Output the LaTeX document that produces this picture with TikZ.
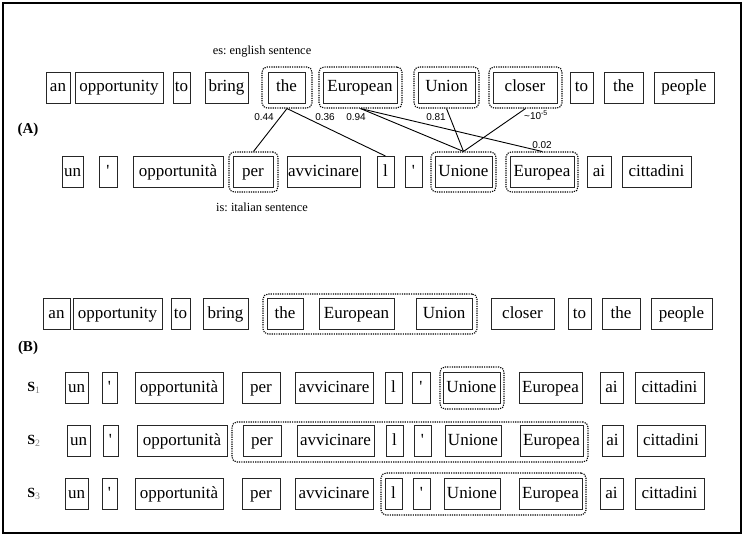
\documentclass[tikz,border=0pt]{standalone}
\usepackage{fontspec}
\setmainfont{Liberation Serif}
\newfontfamily\numfont{Liberation Sans}
\newfontfamily\wordfont{Liberation Serif}
\frenchspacing
\newcommand\wb[5]{\node[wbox, minimum width={#3-#2}] (#1) at ({(#2+#3)/2},#4) {#5};}
\newcommand\db[5]{\node[dbox, minimum width={#3-#2}, minimum height={#5-#4}] (#1) at ({(#2+#3)/2},{(#4+#5)/2}) {};}
\newcommand\ap{\textquotesingle}
\begin{document}
\begin{tikzpicture}[x=1pt,y=-1pt,
  wbox/.style={draw=black!85, line width=0.9pt, inner sep=0pt, minimum height=31pt,
    text height=11.5pt, text depth=3.5pt, font=\wordfont\fontsize{17}{20}\selectfont},
  dbox/.style={draw, line width=1.1pt, dash pattern=on 1.2pt off 1.1pt, rounded corners=5pt, inner sep=0pt},
  lab/.style={font=\numfont\fontsize{10}{12}\selectfont, inner sep=0pt},
  note/.style={font=\wordfont\fontsize{12.4}{14}\selectfont\frenchspacing, inner sep=0pt},
  part/.style={font=\wordfont\bfseries\fontsize{15}{18}\selectfont, inner sep=0pt},
  slab/.style={font=\wordfont\bfseries\fontsize{14}{16}\selectfont, inner sep=0pt},
  link/.style={line width=0.9pt}]
\useasboundingbox (0,0) rectangle (747,535);
\draw[line width=2pt] (3,3) rectangle (741,533);

% ---------- (A) ----------
\node[note] (es) at (262,52) {es: english sentence};
\node[part] (A) at (28,130) {(A)};
\wb{aan}{46}{70}{88}{an}
\wb{aopp}{75}{163}{88}{opportunity}
\wb{ato}{173}{190}{88}{to}
\wb{abring}{205}{248}{88}{bring}
\wb{athe}{268}{305}{88}{the}
\wb{aeur}{323}{397}{88}{European}
\wb{aunion}{418}{475}{88}{Union}
\wb{acloser}{493}{557}{88}{closer}
\wb{ato2}{570}{593}{88}{to}
\wb{athe2}{604}{643}{88}{the}
\wb{apeople}{654}{714}{88}{people}
\db{dthe}{262}{312}{67}{108}
\db{deur}{319}{402}{67}{108}
\db{dunion}{414}{479}{67}{108}
\db{dcloser}{489}{562}{67}{108}

\wb{iun}{62}{83}{172}{un}
\wb{iap}{99}{117}{172}{\ap}
\wb{iopp}{133}{223}{172}{opportunità}
\wb{iper}{233}{273}{172}{per}
\wb{iavv}{287}{360}{172}{avvicinare}
\wb{il}{377}{394}{172}{l}
\wb{iap2}{405}{422}{172}{\ap}
\wb{iunione}{435}{492}{172}{Unione}
\wb{ieuropea}{510}{574}{172}{Europea}
\wb{iai}{587}{611}{172}{ai}
\wb{icitt}{622}{691}{172}{cittadini}
\db{dper}{229}{278}{152}{192}
\db{dunione}{431}{496}{152}{192}
\db{deuropea}{506}{578}{152}{192}
\node[note] (is) at (262,207) {is: italian sentence};

\draw[link] (dthe.south) -- (dper.north);
\draw[link] (dthe.south) -- (il.north);
\draw[link] (deur.south) -- (dunione.north);
\draw[link] (deur.south) -- (deuropea.north);
\draw[link] (dunion.south) -- (dunione.north);
\draw[link] (dcloser.south) -- (dunione.north);
\node[lab] (l1) at (264,117) {0.44};
\node[lab] (l2) at (325,117) {0.36};
\node[lab] (l3) at (356,117) {0.94};
\node[lab] (l4) at (436,117) {0.81};
\node[lab] (l5) at (536,115) {\textasciitilde10\textsuperscript{-5}};
\node[lab] (l6) at (542,145) {0.02};

% ---------- (B) ----------
\wb{ban}{43}{70}{314}{an}
\wb{bopp}{73}{162}{314}{opportunity}
\wb{bto}{171}{190}{314}{to}
\wb{bbring}{203}{248}{314}{bring}
\wb{bthe}{267}{303}{314}{the}
\wb{beur}{319}{394}{314}{European}
\wb{bunion}{416}{472}{314}{Union}
\wb{bcloser}{491}{554}{314}{closer}
\wb{bto2}{568}{591}{314}{to}
\wb{bthe2}{602}{640}{314}{the}
\wb{bpeople}{651}{712}{314}{people}
\db{dbgroup}{263}{477}{294}{334}
\node[part] (B) at (28,348) {(B)};

% S1
\node[slab] (s1) at (34,388) {S\textsubscript{\textcolor{gray}{\mdseries 1}}};
\wb{pun}{65}{88}{388}{un}
\wb{pap}{102}{117}{388}{\ap}
\wb{popp}{135}{223}{388}{opportunità}
\wb{pper}{242}{280}{388}{per}
\wb{pavv}{295}{373}{388}{avvicinare}
\wb{pl}{385}{402}{388}{l}
\wb{pap2}{412}{430}{388}{\ap}
\wb{punione}{443}{500}{388}{Unione}
\wb{peuropea}{519}{582}{388}{Europea}
\wb{pai}{600}{623}{388}{ai}
\wb{pcitt}{635}{704}{388}{cittadini}
\db{dp}{440}{504}{367}{409}

% S2
\node[slab] (s2) at (34,441) {S\textsubscript{\textcolor{gray}{\mdseries 2}}};
\wb{qun}{67}{90}{441}{un}
\wb{qap}{103}{118}{441}{\ap}
\wb{qopp}{137}{227}{441}{opportunità}
\wb{qper}{243}{281}{441}{per}
\wb{qavv}{297}{374}{441}{avvicinare}
\wb{ql}{386}{403}{441}{l}
\wb{qap2}{414}{431}{441}{\ap}
\wb{qunione}{445}{501}{441}{Unione}
\wb{qeuropea}{520}{583}{441}{Europea}
\wb{qai}{602}{623}{441}{ai}
\wb{qcitt}{637}{705}{441}{cittadini}
\db{dq}{232}{588}{422}{462}

% S3
\node[slab] (s3) at (34,494) {S\textsubscript{\textcolor{gray}{\mdseries 3}}};
\wb{run}{65}{88}{494}{un}
\wb{rap}{102}{117}{494}{\ap}
\wb{ropp}{135}{223}{494}{opportunità}
\wb{rper}{242}{280}{494}{per}
\wb{ravv}{295}{373}{494}{avvicinare}
\wb{rl}{385}{402}{494}{l}
\wb{rap2}{413}{430}{494}{\ap}
\wb{runione}{444}{500}{494}{Unione}
\wb{reuropea}{519}{582}{494}{Europea}
\wb{rai}{600}{623}{494}{ai}
\wb{rcitt}{635}{704}{494}{cittadini}
\db{dr}{381}{586}{473}{515}
\end{tikzpicture}
\end{document}
